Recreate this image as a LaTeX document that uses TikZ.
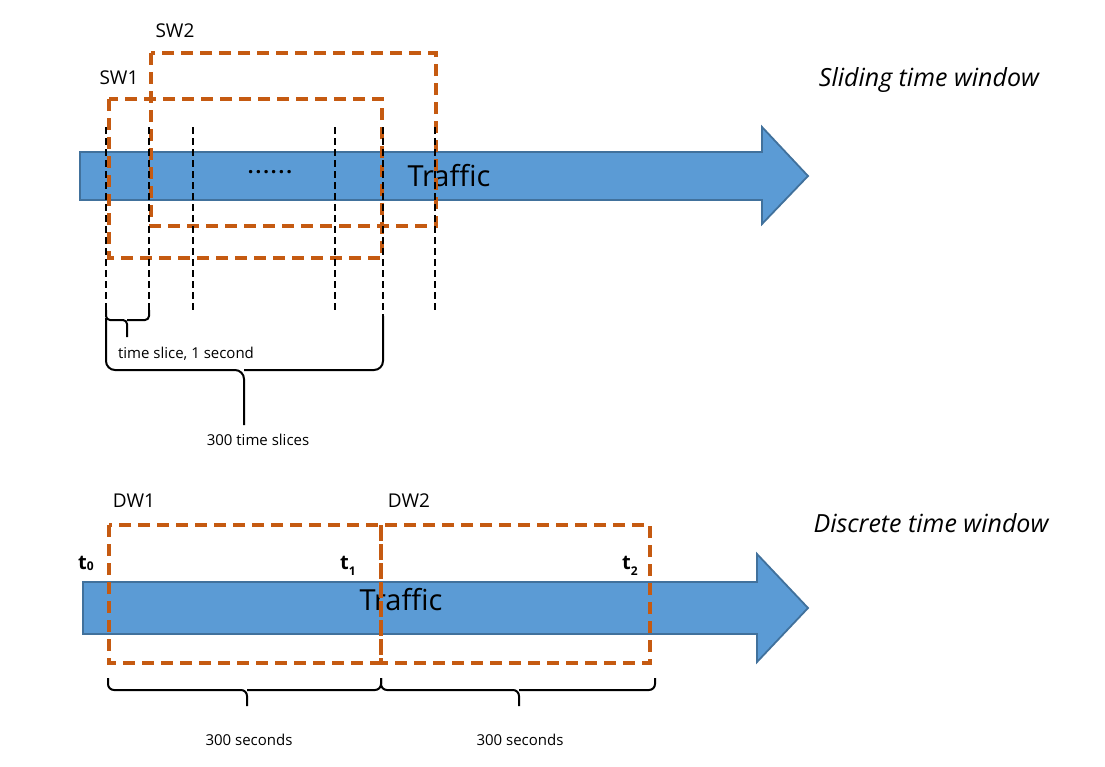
\documentclass[tikz,border=0pt]{standalone}
\usepackage{fontspec}
\setmainfont{Open Sans}
\definecolor{arrowblue}{HTML}{5B9BD5}
\definecolor{arrowedge}{HTML}{41719C}
\definecolor{winorange}{HTML}{C55A11}
\begin{document}
\begin{tikzpicture}[x=1pt,y=-1pt,
  traffic/.style={fill=arrowblue, draw=arrowedge, line width=1.8pt},
  owin/.style={draw=winorange, line width=3.4pt, dash pattern=on 12pt off 7pt},
  slice/.style={draw=black, line width=2.4pt, dash pattern=on 7pt off 4pt},
  bracepath/.style={draw=black, line width=2pt, rounded corners=6pt},
  lbl/.style={inner sep=0pt, font=\fontsize{19pt}{21pt}\selectfont},
  small/.style={inner sep=0pt, font=\fontsize{15pt}{17pt}\selectfont},
  big/.style={inner sep=0pt, font=\fontsize{29pt}{31pt}\selectfont},
  tlbl/.style={inner sep=0pt, font=\fontsize{20pt}{22pt}\selectfont\bfseries},
  hand/.style={inner sep=0pt, font=\fontsize{25pt}{27pt}\selectfont\itshape}]
\useasboundingbox (0,0) rectangle (1105,766);

% ---------- Sliding time window ----------
\draw[traffic] (80,152) -- (762,152) -- (762,127) -- (808,176) -- (762,224) -- (762,200) -- (80,200) -- cycle;
\node[big] (tr1) at (449,176) {Traffic};
\node[inner sep=0pt, font=\fontsize{20pt}{20pt}\selectfont\bfseries] (dots) at (270,172) {.\hspace{2pt}.\hspace{2pt}.\hspace{2pt}.\hspace{2pt}.\hspace{2pt}.};

\draw[owin] (151,53) rectangle (436,226);
\draw[owin] (109,99) rectangle (382,258);

\foreach \x/\yb in {106/316,149/316,193/312,335/312,383/316,435/312}
  \draw[slice] (\x,127) -- (\x,\yb);

\node[lbl] (sw2) at (175,31) {SW2};
\node[lbl] (sw1) at (119,78) {SW1};

% small brace
\draw[bracepath, rounded corners=4pt] (106,310) -- (106,320) -- (127,320) -- (127,337);
\draw[bracepath, rounded corners=4pt] (149,310) -- (149,320) -- (127,320);
% big brace
\draw[bracepath, rounded corners=9pt] (106,318) -- (106,370) -- (244,370) -- (244,425);
\draw[bracepath, rounded corners=9pt] (383,316) -- (383,370) -- (244,370);

\node[small] (ts) at (186,354) {time slice, 1 second};
\node[small] (ts300) at (258,440) {300 time slices};

\node[hand] (sliding) at (929,80) {Sliding time window};

% ---------- Discrete time window ----------
\draw[traffic] (83,582) -- (757,582) -- (757,554) -- (808,608) -- (757,662) -- (757,634) -- (83,634) -- cycle;
\node[big] (tr2) at (401,600) {Traffic};

\draw[owin] (109,525) rectangle (381,663);
\draw[owin] (381,525) rectangle (650,663);

\node[lbl] (dw1) at (134,501) {DW1};
\node[lbl] (dw2) at (409,501) {DW2};

\node[tlbl, anchor=base west] (t0) at (78,569) {t\raisebox{-1pt}{\fontsize{12pt}{12pt}\selectfont 0}};
\node[tlbl, anchor=base west] (t1) at (340,569) {t\raisebox{-6pt}{\fontsize{12pt}{12pt}\selectfont 1}};
\node[tlbl, anchor=base west] (t2) at (622,569) {t\raisebox{-6pt}{\fontsize{12pt}{12pt}\selectfont 2}};

\node[hand] (discrete) at (931,523) {Discrete time window};

% bottom braces
\draw[bracepath] (108,678) -- (108,690) -- (247,690) -- (247,706);
\draw[bracepath] (381,678) -- (381,690) -- (247,690);
\draw[bracepath] (381,678) -- (381,690) -- (519,690) -- (519,706);
\draw[bracepath] (655,678) -- (655,690) -- (519,690);

\node[small] (s1) at (249,740) {300 seconds};
\node[small] (s2) at (520,740) {300 seconds};
\end{tikzpicture}
\end{document}
